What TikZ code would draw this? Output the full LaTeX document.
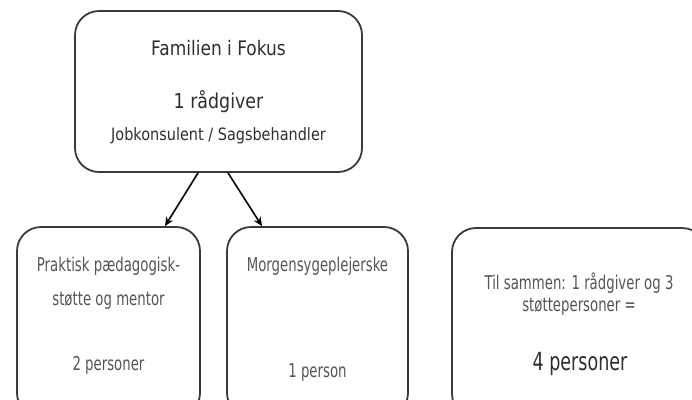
\documentclass[tikz,border=0pt]{standalone}
\usepackage{fontspec}
\usetikzlibrary{arrows.meta}
\newfontfamily\boxfont{DejaVu Sans}[FakeStretch=0.85]
\newfontfamily\narrowfont{DejaVu Sans}[FakeStretch=0.7]
\definecolor{boxgray}{HTML}{3A3A3A}
\definecolor{topgray}{HTML}{2E2E2E}
\definecolor{lowgray}{HTML}{555555}

\begin{document}
\begin{tikzpicture}[x=1pt,y=-1pt,
    box/.style={draw=boxgray,line width=1.8pt,rounded corners=24pt},
    toptxt/.style={inner sep=0,anchor=base,text=topgray,font=\boxfont},
    lowtxt/.style={inner sep=0,anchor=base,text=lowgray,font=\narrowfont\fontsize{19}{22}\selectfont}]
    \useasboundingbox (0,0) rectangle (692,399);

    % boxes
    \node[box,minimum width=287pt,minimum height=161pt] (A) at (218.5,91.5) {};
    \node[box,minimum width=183pt,minimum height=190pt] (B) at (108.5,322) {};
    \node[box,minimum width=181pt,minimum height=190pt] (C) at (317.5,322) {};
    \node[box,minimum width=254pt,minimum height=190pt] (D) at (579,323) {};

    % texts
    \node[toptxt,font=\boxfont\fontsize{20}{24}\selectfont] (A1) at (218.5,55) {Familien i Fokus};
    \node[toptxt,font=\boxfont\fontsize{20.5}{24}\selectfont] (A2) at (218.5,108) {1 rådgiver};
    \node[toptxt,font=\boxfont\fontsize{17}{20}\selectfont] (A3) at (218.5,140) {Jobkonsulent / Sagsbehandler};

    \node[lowtxt] (B1) at (108.5,271) {Praktisk pædagogisk-};
    \node[lowtxt] (B2) at (108.5,305) {støtte og mentor};
    \node[lowtxt] (B3) at (108.5,370) {2 personer};

    \node[lowtxt] (C1) at (317.5,271) {Morgensygeplejerske};
    \node[lowtxt] (C2) at (317.5,377) {1 person};

    \node[lowtxt] (D1) at (579,289) {Til sammen: 1 rådgiver og 3};
    \node[lowtxt] (D2) at (579,311) {støttepersoner =};
    \node[lowtxt,text=topgray,font=\narrowfont\fontsize{25}{30}\selectfont] (D3) at (580,370) {4 personer};

    \draw[line width=1.6pt,-{Stealth[length=9pt,width=8pt]}]
        ([xshift=-20.5pt]A.south) -- ([xshift=56.5pt]B.north);
    \draw[line width=1.6pt,-{Stealth[length=9pt,width=8pt]}]
        ([xshift=9.5pt]A.south) -- ([xshift=-55.5pt]C.north);
\end{tikzpicture}
\end{document}
